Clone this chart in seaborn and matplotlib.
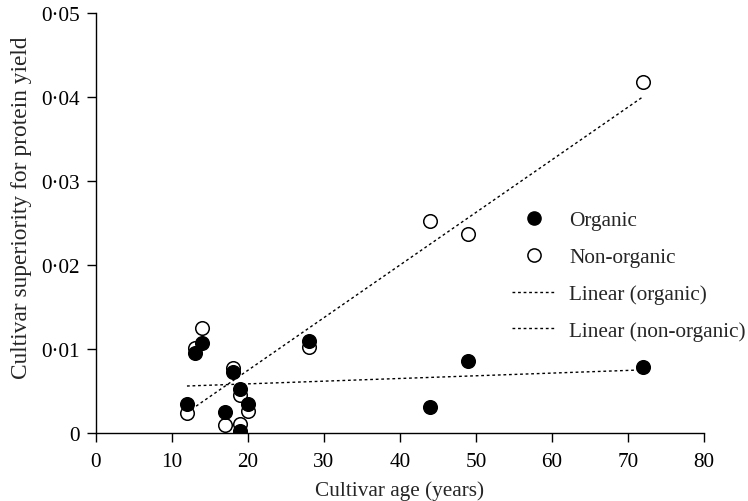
import numpy as np
import pandas as pd
import matplotlib
matplotlib.use("Agg")
from matplotlib import pyplot as plt
from matplotlib.lines import Line2D
import seaborn as sns

# data
organic_age = [12, 13, 14, 17, 18, 19, 19, 20, 28, 44, 49, 72]
organic_sup = [0.0035, 0.0095, 0.0107, 0.0025, 0.0073, 0.0052, 0.0002, 0.0034, 0.0110, 0.0031, 0.0086, 0.0079]
nonorg_age = [12, 13, 14, 17, 18, 19, 19, 20, 28, 44, 49, 72]
nonorg_sup = [0.0024, 0.0101, 0.0125, 0.0009, 0.0077, 0.0045, 0.0011, 0.0026, 0.0102, 0.0252, 0.0237, 0.0418]

x_ticks = [0, 10, 20, 30, 40, 50, 60, 70, 80]
y_ticks = [0, 0.01, 0.02, 0.03, 0.04, 0.05]
y_tick_labels = ["0", "0·01", "0·02", "0·03", "0·04", "0·05"]

df_org = pd.DataFrame({"age": organic_age, "sup": organic_sup})
df_non = pd.DataFrame({"age": nonorg_age, "sup": nonorg_sup})

sns.set_style("ticks")
plt.rcParams["font.family"] = ["Liberation Serif", "DejaVu Serif"]
fs = 15.3

fig = plt.figure(figsize=(7.48, 5.02), dpi=100)
ax = fig.add_axes([0.128, 0.1355, 0.813, 0.8365])

# trend lines (least squares)
dots = (0, (2, 2))
sns.regplot(data=df_org, x="age", y="sup", scatter=False, ci=None, ax=ax,
            line_kws={"color": "black", "lw": 1, "linestyle": dots})
sns.regplot(data=df_non, x="age", y="sup", scatter=False, ci=None, ax=ax,
            line_kws={"color": "black", "lw": 1, "linestyle": dots})

# points: open first, filled on top
sns.scatterplot(data=df_non, x="age", y="sup", ax=ax, s=95, color="white",
                edgecolor="black", linewidth=1.1, zorder=3)
sns.scatterplot(data=df_org, x="age", y="sup", ax=ax, s=95, color="black",
                edgecolor="black", linewidth=1.1, zorder=4)

ax.set_xlim(0, 80)
ax.set_ylim(0, 0.05)
ax.set_xticks(x_ticks)
ax.set_yticks(y_ticks)
ax.set_yticklabels(y_tick_labels)
ax.set_xlabel("Cultivar age (years)", fontsize=fs, labelpad=7)
ax.set_ylabel("Cultivar superiority for protein yield", fontsize=16.8)
ax.yaxis.set_label_coords(-0.104, 0.538)
ax.tick_params(direction="out", length=6.5, width=1, colors="black", labelsize=fs)
ax.tick_params(axis="x", pad=7)
ax.tick_params(axis="y", pad=5)
for s in ["left", "bottom"]:
    ax.spines[s].set_linewidth(1)
    ax.spines[s].set_color("black")
sns.despine(ax=ax)
for sp in ax.spines.values():
    sp.set_clip_on(False)

handles = [
    Line2D([], [], marker="o", ls="none", color="black", markersize=9.5),
    Line2D([], [], marker="o", ls="none", markerfacecolor="white", markeredgecolor="black",
           markeredgewidth=1.1, markersize=9.5),
    Line2D([], [], color="black", lw=1, ls=dots),
    Line2D([], [], color="black", lw=1, ls=dots),
]
labels = ["Organic", "Non-organic", "Linear (organic)", "Linear (non-organic)"]
ax.legend(handles, labels, loc="upper left", bbox_to_anchor=(0.684, 0.53),
          frameon=False, fontsize=fs, handlelength=2.1, labelspacing=0.8,
          handletextpad=0.6, borderpad=0, borderaxespad=0)

fig.savefig("out.png", dpi=100)
